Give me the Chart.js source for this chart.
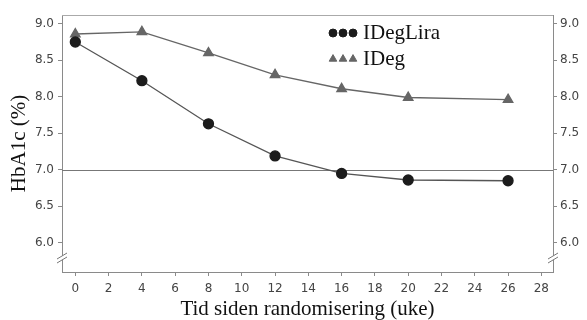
<!DOCTYPE html>
<html>
<head>
<meta charset="utf-8">
<script src="https://cdn.jsdelivr.net/npm/chart.js@4/dist/chart.umd.min.js"></script>
<style>
  html, body { margin: 0; padding: 0; background: #fff; }
  #wrap { width: 587px; height: 320px; position: relative; }
</style>
</head>
<body>
<div id="wrap"><canvas id="c"></canvas></div>
<script>
// weeks since randomisation
var weeks = [0, 4, 8, 12, 16, 20, 26];
var idegLira = [8.75, 8.22, 7.63, 7.19, 6.95, 6.86, 6.85];
var ideg = [8.86, 8.89, 8.60, 8.30, 8.11, 7.99, 7.96];
var xTicks = [0, 2, 4, 6, 8, 10, 12, 14, 16, 18, 20, 22, 24, 26, 28];
var yTicks = [6.0, 6.5, 7.0, 7.5, 8.0, 8.5, 9.0];
var targetLine = 7.0;

var axisColor = '#8a8a8a';
var tickFont = { family: 'DejaVu Sans', size: 12 };
var titleFont = { family: 'Liberation Serif', size: 21, lineHeight: 1.0 };

function toPoints(ys) {
    return weeks.map(function (w, i) { return { x: w, y: ys[i] }; });
}

var framePlugin = {
    id: 'frame',
    beforeDatasetsDraw: function (chart) {
        var ctx = chart.ctx, a = chart.chartArea;
        var y = chart.scales.y.getPixelForValue(targetLine);
        ctx.save();
        ctx.strokeStyle = '#777';
        ctx.lineWidth = 1;
        ctx.beginPath();
        ctx.moveTo(a.left, Math.round(y) + 0.5);
        ctx.lineTo(a.right, Math.round(y) + 0.5);
        ctx.stroke();
        // top border
        ctx.strokeStyle = '#aaa';
        ctx.beginPath();
        ctx.moveTo(a.left, a.top + 0.5);
        ctx.lineTo(a.right, a.top + 0.5);
        ctx.stroke();
        ctx.restore();
    },
    afterDraw: function (chart) {
        var ctx = chart.ctx, a = chart.chartArea;
        var yb = a.bottom - 12;
        ctx.save();
        [a.left, a.right].forEach(function (x) {
            ctx.fillStyle = '#fff';
            ctx.beginPath();
            ctx.moveTo(x - 5, yb + 3);
            ctx.lineTo(x + 5, yb - 3);
            ctx.lineTo(x + 5, yb - 7);
            ctx.lineTo(x - 5, yb - 1);
            ctx.closePath();
            ctx.fill();
            ctx.strokeStyle = '#777';
            ctx.lineWidth = 1;
            ctx.beginPath();
            ctx.moveTo(x - 5, yb + 3);
            ctx.lineTo(x + 5, yb - 3);
            ctx.moveTo(x - 5, yb - 1);
            ctx.lineTo(x + 5, yb - 7);
            ctx.stroke();
        });
        // legend
        var items = [
            { label: 'IDegLira', ds: chart.data.datasets[0], y: 33 },
            { label: 'IDeg', ds: chart.data.datasets[1], y: 59 }
        ];
        items.forEach(function (it) {
            for (var k = 0; k < 3; k++) {
                ctx.fillStyle = it.ds.pointBackgroundColor;
                ctx.strokeStyle = it.ds.pointBorderColor;
                ctx.lineWidth = 1;
                Chart.helpers.drawPoint(ctx, {
                    pointStyle: it.ds.pointStyle,
                    radius: it.ds.pointStyle === 'circle' ? 4 : 4.4,
                    borderWidth: 1
                }, 333 + k * 10, it.y);
            }
            ctx.fillStyle = '#111';
            ctx.font = '21px "Liberation Serif"';
            ctx.textBaseline = 'middle';
            ctx.textAlign = 'left';
            ctx.fillText(it.label, 363, it.y);
        });
        ctx.restore();
    }
};

function fixedTicks(list) {
    return function (scale) {
        scale.ticks = list.map(function (v) { return { value: v }; });
    };
}

new Chart(document.getElementById('c'), {
    type: 'line',
    data: {
        datasets: [
            {
                label: 'IDegLira',
                data: toPoints(idegLira),
                borderColor: '#555',
                borderWidth: 1.3,
                pointStyle: 'circle',
                pointRadius: 5,
                pointBackgroundColor: '#1c1c1c',
                pointBorderColor: '#1c1c1c',
                tension: 0
            },
            {
                label: 'IDeg',
                data: toPoints(ideg),
                borderColor: '#666',
                borderWidth: 1.3,
                pointStyle: 'triangle',
                pointRadius: 5.5,
                pointBackgroundColor: '#666',
                pointBorderColor: '#666',
                tension: 0
            }
        ]
    },
    options: {
        responsive: true,
        maintainAspectRatio: false,
        animation: false,
        layout: { padding: { top: 15, left: 0, right: 0, bottom: 0 } },
        plugins: { legend: { display: false }, tooltip: { enabled: false } },
        scales: {
            x: {
                type: 'linear',
                min: -0.8,
                max: 28.7,
                afterBuildTicks: fixedTicks(xTicks),
                afterFit: function (s) { s.height = 48; },
                grid: { drawOnChartArea: false, drawTicks: true, tickLength: 4, color: axisColor },
                border: { display: true, color: axisColor },
                ticks: { font: tickFont, color: '#444', padding: 6, maxRotation: 0 },
                title: {
                    display: true,
                    text: 'Tid siden randomisering (uke)',
                    font: titleFont,
                    color: '#111',
                    padding: { top: 0, bottom: 0 }
                }
            },
            y: {
                position: 'left',
                min: 5.6,
                max: 9.12,
                afterBuildTicks: fixedTicks(yTicks),
                afterFit: function (s) { s.width = 62; },
                grid: { drawOnChartArea: false, drawTicks: true, tickLength: 4, color: axisColor },
                border: { display: true, color: axisColor },
                ticks: {
                    font: tickFont, color: '#444', padding: 4,
                    callback: function (v) { return v.toFixed(1); }
                },
                title: {
                    display: true,
                    text: 'HbA1c (%)',
                    font: titleFont,
                    color: '#111',
                    padding: { top: 9, bottom: 0 }
                }
            },
            y2: {
                position: 'right',
                min: 5.6,
                max: 9.12,
                afterBuildTicks: fixedTicks(yTicks),
                afterFit: function (s) { s.width = 34; },
                grid: { drawOnChartArea: false, drawTicks: true, tickLength: 4, color: axisColor },
                border: { display: true, color: axisColor },
                ticks: {
                    font: tickFont, color: '#444', padding: 3,
                    callback: function (v) { return v.toFixed(1); }
                }
            }
        }
    },
    plugins: [framePlugin]
});
</script>
</body>
</html>
